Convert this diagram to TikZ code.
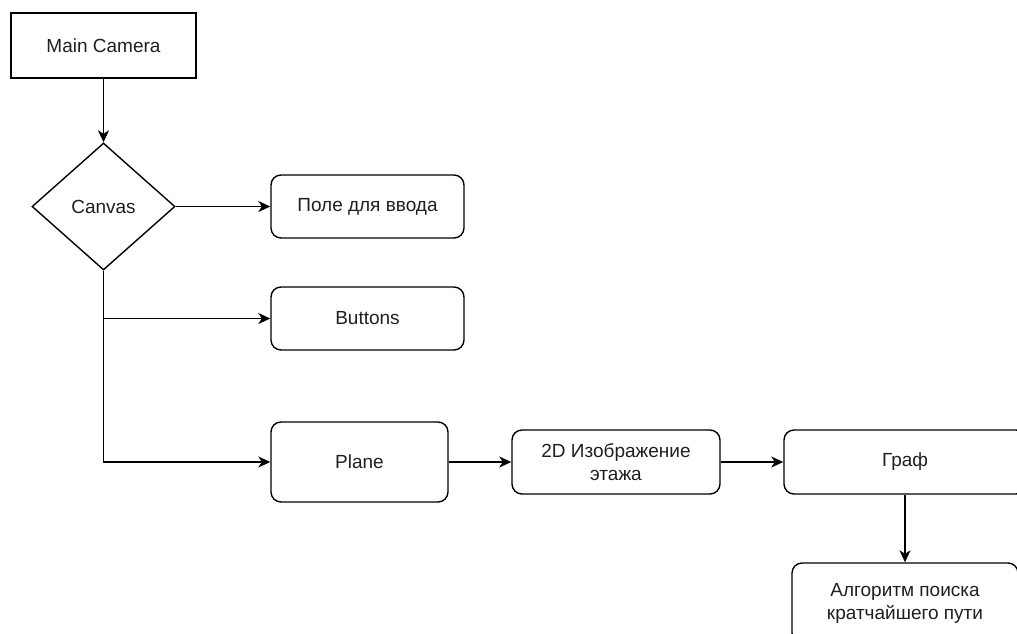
\documentclass[tikz,border=0pt]{standalone}
\usepackage{fontspec}
\setmainfont{Liberation Sans}
\usetikzlibrary{shapes.geometric,arrows.meta}
\begin{document}
\begin{tikzpicture}[x=1pt,y=-1pt,
  every node/.style={font=\fontsize{19}{23}\selectfont, align=center, inner sep=0pt, text=black!88},
  rbox/.style={draw, line width=1.4pt, rounded corners=10pt},
  conn/.style={line width=1.4pt, -{Stealth[length=12pt,width=11pt,inset=3.5pt]}}
]
\useasboundingbox (0,0) rectangle (1017,633);
\clip (0,0) rectangle (1017,633);
\node[draw, line width=1.4pt, minimum width=185pt, minimum height=65pt] (cam) at (103.5,45.5) {Main Camera};
\node[draw, line width=1.4pt, diamond, minimum width=143pt, minimum height=127pt] (canvas) at (103.5,206.5) {Canvas};
\node[rbox, minimum width=193pt, minimum height=63pt] (field) at (367.5,206.5) {Поле для ввода};
\node[rbox, minimum width=193pt, minimum height=63pt] (buttons) at (367.5,318.5) {Buttons};
\node[rbox, minimum width=177pt, minimum height=80pt] (plane) at (359.5,462) {Plane};
\node[rbox, minimum width=208pt, minimum height=64pt] (img) at (616,462) {2D Изображение\\этажа};
\node[rbox, minimum width=242pt, minimum height=64pt] (graph) at (905,462) {Граф};
\node[rbox, minimum width=226pt, minimum height=80pt] (algo) at (905,603) {Алгоритм поиска\\кратчайшего пути};
\draw[conn] (cam) -- (canvas);
\draw[conn] (canvas.east) -- (field.west);
\draw[conn] (canvas.south) |- (buttons.west);
\draw[conn] (canvas.south) |- (plane.west);
\draw[conn] (plane) -- (img);
\draw[conn] (img) -- (graph);
\draw[conn] (graph) -- (algo);
\end{tikzpicture}
\end{document}
